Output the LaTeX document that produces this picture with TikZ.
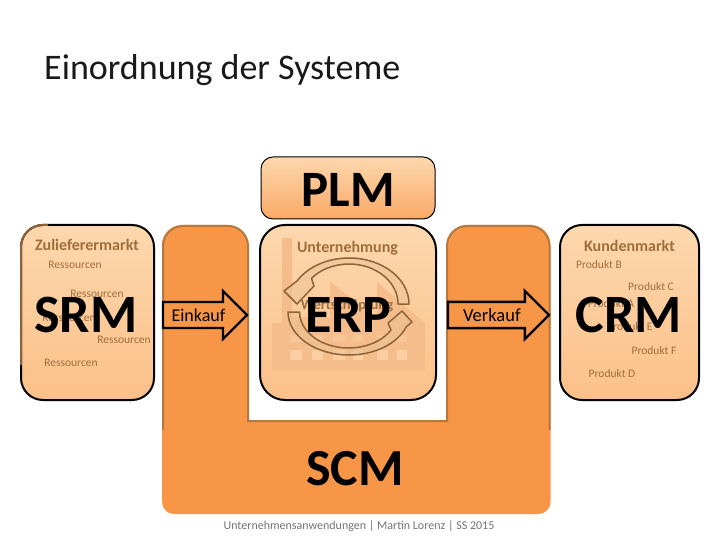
\documentclass[tikz,border=0pt]{standalone}
\usepackage{fontspec}
\setmainfont{Carlito}
\usetikzlibrary{positioning, shapes.arrows}

\definecolor{scmorange}{HTML}{F79646}
\definecolor{scmedge}{HTML}{B5793F}
\definecolor{boxtop}{HTML}{FDD8AE}
\definecolor{boxbottom}{HTML}{FBC089}
\definecolor{plmbottom}{HTML}{F9A966}
\definecolor{labelbrown}{HTML}{A06E3C}
\definecolor{cyclebrown}{HTML}{8F6238}
\definecolor{cyclefill}{HTML}{EBC196}
\definecolor{factory}{HTML}{F4BD8B}
\definecolor{factorywin}{HTML}{FBCFA2}

\begin{document}
\begin{tikzpicture}[
    x=1pt, y=-1pt,
    node distance=6pt and 6pt,
    market/.style={draw=black, line width=2pt, rectangle, outer sep=0pt, minimum height=175pt, rounded corners=22pt, top color=boxtop, bottom color=boxbottom},
    bigname/.style={font=\fontsize{54}{54}\selectfont\bfseries, inner sep=0pt, text=black},
    flowarrow/.style={draw=black, line width=2.4pt, single arrow, single arrow head extend=11pt, single arrow head indent=0pt, minimum width=46pt, inner xsep=1pt, inner ysep=5.5pt, outer sep=0pt, fill=scmorange, anchor=tail, font=\fontsize{18}{18}\selectfont, text=black},
    heading/.style={font=\fontsize{16}{16}\selectfont\bfseries, text=labelbrown, inner sep=0pt},
    item/.style={font=\fontsize{11.5}{12}\selectfont, text=labelbrown, inner sep=0pt},
    cycle/.style={draw=cyclebrown, line width=1.5pt, fill=cyclefill, fill opacity=0.5, line join=round},
]
\useasboundingbox (0,0) rectangle (720,540);

% Title
\node[anchor=west, inner sep=0pt, font=\fontsize{36}{36}\selectfont, text=black!90] (title) at (44,70) {Einordnung der Systeme};

% SCM band
\fill[scmorange, rounded corners=20pt] (162,470) -- (162,225) -- (248,225) [sharp corners] -- (248,421) -- (447,421) [rounded corners=20pt] -- (447,225) -- (550.5,225) [rounded corners=12pt] -- (550.5,514) -- (162,514) -- cycle;
\draw[scmedge, line width=2pt, rounded corners=20pt] (163,430) -- (163,226) -- (248,226) [sharp corners] -- (248,421) -- (447,421) [rounded corners=20pt] -- (447,226) -- (549.5,226) -- (549.5,430);

% Markets and company
\node[draw=black, line width=1pt, rectangle, outer sep=0pt, minimum width=174pt, minimum height=62pt, rounded corners=12pt, top color=boxtop, bottom color=plmbottom] (plm) at (348,188) {};
\node[market, below=6pt of plm, minimum width=176pt, rounded corners=25pt] (erp) {};
\node[market, minimum width=133pt] (zulieferer) at (87.5,312.5) {};
\node[market, minimum width=139pt] (kunden) at (629.5,312.5) {};
\draw[cyclebrown, line width=2pt, rounded corners=22pt] (21,365) -- (21,225) -- (48,225);

% Factory
\fill[factory] (272,370) -- (272,323) -- (282,323) -- (282,238) -- (292,238) -- (292,317) -- (330,317) -- (330,282) -- (377,318) -- (377,282) -- (425,323) -- (425,370) -- cycle;
\fill[factorywin] (290,350) rectangle (302,360) (312,350) rectangle (323,360) (333,350) rectangle (345,360) (353,350) rectangle (363,360) (377,350) rectangle (388,360) (397,350) rectangle (407,360);
\fill[factorywin, opacity=0.5] (290,335) rectangle (302,342) (312,335) rectangle (323,342) (333,335) rectangle (345,342) (353,335) rectangle (363,342) (377,335) rectangle (388,342) (397,335) rectangle (407,342);

% Value cycle
\draw[cycle] (409,304) arc[start angle=0, end angle=-150, x radius=60, y radius=46] -- (284,291) -- (297,304) -- (314,286) -- (311.5,278.3) arc[start angle=-140, end angle=0, x radius=49, y radius=40] -- cycle;
\draw[cycle] (288,312) arc[start angle=180, end angle=20, x radius=61, y radius=43] -- (412,322) -- (402,311) -- (388,323) -- (391,330) arc[start angle=30, end angle=180, x radius=49, y radius=36] -- cycle;

% Headings
\node[heading] (zlabel) at (87,245) {Zulieferermarkt};
\node[heading] (ulabel) at (347.5,248) {Unternehmung};
\node[heading] (klabel) at (629.5,246) {Kundenmarkt};
\node[heading, font=\fontsize{14.5}{14.5}\selectfont\bfseries] (wlabel) at (347,306) {Wertschöpfung};

% Resources
\node[item] (r1) at (75,265) {Ressourcen};
\node[item] (r2) at (97,294) {Ressourcen};
\node[item] (r3) at (69,318) {Ressourcen};
\node[item] (r4) at (124,340) {Ressourcen};
\node[item] (r5) at (71,363) {Ressourcen};

% Products
\node[item] (pb) at (599,265) {Produkt B};
\node[item] (pc) at (651,287) {Produkt C};
\node[item] (pa) at (611,304) {Produkt A};
\node[item] (pe) at (630,327) {Produkt E};
\node[item] (pf) at (654,351) {Produkt F};
\node[item] (pd) at (612,374) {Produkt D};

% Flow arrows
\node[flowarrow, minimum height=84pt] (einkauf) at (163,315) {Einkauf};
\node[flowarrow, minimum height=101pt, font=\fontsize{18.5}{18.5}\selectfont] (verkauf) at (448,315) {Verkauf};

% System names
\node[bigname] (srm) at (86,315) {SRM};
\node[bigname] (erpname) at (348,314.5) {ERP};
\node[bigname] (crm) at (629,315) {CRM};
\node[bigname, font=\fontsize{51}{51}\selectfont\bfseries] (plmname) at (348,190) {PLM};
\node[bigname, font=\fontsize{52}{52}\selectfont\bfseries] (scmname) at (355,469) {SCM};

% Footer
\node[inner sep=0pt, font=\fontsize{12}{12}\selectfont, text=black!55] (footer) at (359,526) {Unternehmensanwendungen | Martin Lorenz | SS 2015};

\end{tikzpicture}
\end{document}
